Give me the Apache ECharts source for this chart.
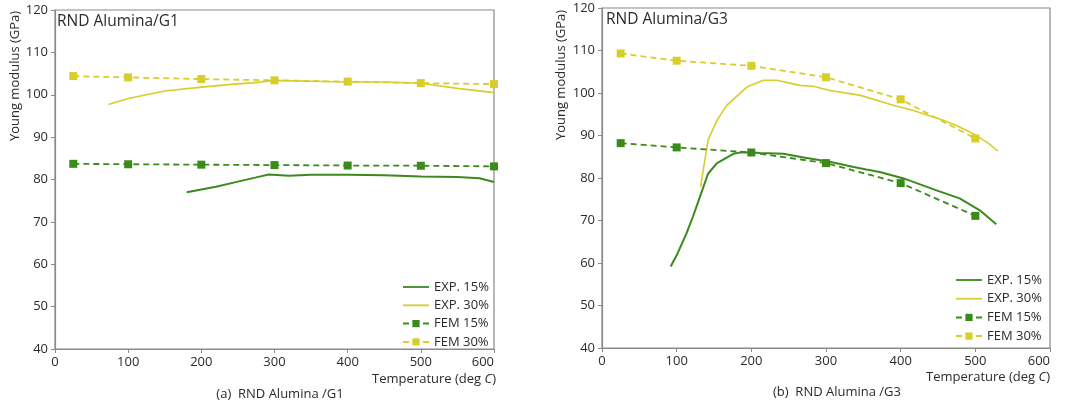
<!DOCTYPE html>
<html>
<head>
<meta charset="utf-8">
<script src="https://cdn.jsdelivr.net/npm/echarts@6/dist/echarts.min.js"></script>
<style>
  html, body { margin: 0; padding: 0; background: #fff; }
  #chart { width: 1069px; height: 405px; }
</style>
</head>
<body>
<div id="chart"></div>
<script>
// FEM sample temperatures (deg C)
const femTempsG1 = [25, 100, 200, 300, 400, 500, 600];
const femTempsG3 = [25, 100, 200, 300, 400, 500];

// RND Alumina/G1
const g1Fem15 = [83.7, 83.6, 83.5, 83.4, 83.3, 83.25, 83.1];
const g1Fem30 = [104.4, 104.1, 103.7, 103.4, 103.1, 102.75, 102.5];
const g1Exp15Temps = [180, 220, 250, 275, 292, 320, 350, 400, 450, 500, 550, 580, 600];
const g1Exp15 = [77.0, 78.3, 79.5, 80.5, 81.2, 80.9, 81.1, 81.1, 81.0, 80.7, 80.6, 80.3, 79.4];
const g1Exp30Temps = [73, 100, 150, 200, 245, 270, 300, 350, 400, 450, 500, 550, 600];
const g1Exp30 = [97.7, 99.1, 100.9, 101.8, 102.5, 102.8, 103.4, 103.2, 103.0, 103.0, 102.7, 101.5, 100.5];

// RND Alumina/G3
const g3Fem15 = [88.2, 87.2, 86.0, 83.5, 78.8, 71.1];
const g3Fem30 = [109.3, 107.6, 106.4, 103.7, 98.5, 89.3];
const g3Exp15Temps = [92, 100, 113, 122, 131, 142, 154, 167, 176, 185, 200, 212, 243, 270, 305, 337, 354, 372, 404, 448, 479, 506, 528];
const g3Exp15 = [59.2, 61.8, 66.9, 71.0, 75.5, 81.0, 83.5, 84.8, 85.7, 86.0, 86.0, 85.9, 85.7, 84.8, 83.8, 82.6, 82.0, 81.4, 79.9, 77.1, 75.2, 72.4, 69.1];
const g3Exp30Temps = [132, 142, 154, 167, 194, 216, 234, 265, 283, 305, 345, 390, 417, 457, 479, 497, 515, 530];
const g3Exp30 = [77.9, 88.9, 93.6, 97.1, 101.4, 103.0, 103.0, 101.8, 101.6, 100.6, 99.5, 97.1, 95.9, 93.6, 92.0, 90.4, 88.5, 86.4];

// Axis ticks
const tempTicks = { min: 0, max: 600, interval: 100 };
const modTicks = { min: 40, max: 120, interval: 10 };

const GREEN = '#3b8a1c';
const YELLOW = '#d8ce2a';
const FONT = '"Open Sans", "DejaVu Sans", sans-serif';
const TEXT = '#2b2b2b';
const SPINE = '#8a8a8a';
const LINE_ICON = 'path://M0,0 L26,0 L26,1.8 L0,1.8 Z';

const zip = (xs, ys) => xs.map((x, i) => [x, ys[i]]);

function xAxisFor(gridIndex) {
  return {
    type: 'value', gridIndex,
    min: tempTicks.min, max: tempTicks.max, interval: tempTicks.interval,
    axisLine: { show: true, lineStyle: { color: SPINE, width: 1.2 } },
    axisTick: { show: true, length: 4, lineStyle: { color: SPINE } },
    axisLabel: { color: TEXT, fontSize: 13, fontFamily: FONT, margin: 7, alignMaxLabel: 'right' },
    splitLine: { show: false }
  };
}
function yAxisFor(gridIndex) {
  return {
    type: 'value', gridIndex,
    min: modTicks.min, max: modTicks.max, interval: modTicks.interval,
    axisLine: { show: true, lineStyle: { color: SPINE, width: 1.2 } },
    axisTick: { show: true, length: 4, lineStyle: { color: SPINE } },
    axisLabel: { color: TEXT, fontSize: 13, fontFamily: FONT, margin: 7 },
    splitLine: { show: false }
  };
}
function expSeries(name, idx, color, width, data) {
  return {
    name, type: 'line', xAxisIndex: idx, yAxisIndex: idx,
    data, symbol: 'none', showSymbol: false, smooth: false,
    lineStyle: { color, width }, itemStyle: { color }, z: 2
  };
}
function femSeries(name, idx, color, data) {
  return {
    name, type: 'line', xAxisIndex: idx, yAxisIndex: idx,
    data, symbol: 'rect', symbolSize: 8,
    lineStyle: { color, width: 1.8, type: [6, 4] }, itemStyle: { color }, z: 3
  };
}
function legendFor(left, top, gap) {
  return {
    orient: 'vertical', left, top, padding: 0,
    itemWidth: 26, itemHeight: 9, itemGap: gap,
    textStyle: { color: TEXT, fontSize: 13, fontFamily: FONT, lineHeight: 14 },
    data: [
      { name: 'EXP. 15%', icon: LINE_ICON, itemStyle: { color: GREEN } },
      { name: 'EXP. 30%', icon: LINE_ICON, itemStyle: { color: YELLOW } },
      { name: 'FEM 15%' },
      { name: 'FEM 30%' }
    ]
  };
}

const chart = echarts.init(document.getElementById('chart'), null, { renderer: 'canvas' });
chart.setOption({
  animation: false,
  backgroundColor: '#fff',
  grid: [
    { left: 55, top: 10, width: 439, height: 339, show: true, borderColor: SPINE, borderWidth: 1.2, backgroundColor: 'transparent' },
    { left: 602, top: 8, width: 448, height: 340, show: true, borderColor: SPINE, borderWidth: 1.2, backgroundColor: 'transparent' }
  ],
  xAxis: [xAxisFor(0), xAxisFor(1)],
  yAxis: [yAxisFor(0), yAxisFor(1)],
  legend: [legendFor(402, 280, 4.3), legendFor(955, 273, 4.7)],
  series: [
    expSeries('EXP. 15%', 0, GREEN, 2, zip(g1Exp15Temps, g1Exp15)),
    expSeries('EXP. 30%', 0, YELLOW, 1.6, zip(g1Exp30Temps, g1Exp30)),
    femSeries('FEM 15%', 0, GREEN, zip(femTempsG1, g1Fem15)),
    femSeries('FEM 30%', 0, YELLOW, zip(femTempsG1, g1Fem30)),
    expSeries('EXP. 15%', 1, GREEN, 2, zip(g3Exp15Temps, g3Exp15)),
    expSeries('EXP. 30%', 1, YELLOW, 1.6, zip(g3Exp30Temps, g3Exp30)),
    femSeries('FEM 15%', 1, GREEN, zip(femTempsG3, g3Fem15)),
    femSeries('FEM 30%', 1, YELLOW, zip(femTempsG3, g3Fem30))
  ],
  graphic: [
    { type: 'text', left: 57, top: 14, style: { text: 'RND Alumina/G1', fill: TEXT, font: '15.5px ' + FONT } },
    { type: 'text', left: 606, top: 12, style: { text: 'RND Alumina/G3', fill: TEXT, font: '15.5px ' + FONT } },
    { type: 'text', x: 15, y: 76, rotation: Math.PI / 2,
      style: { text: 'Young modulus (GPa)', fill: TEXT, font: '13px ' + FONT, align: 'center', verticalAlign: 'middle' } },
    { type: 'text', x: 561, y: 75, rotation: Math.PI / 2,
      style: { text: 'Young modulus (GPa)', fill: TEXT, font: '13px ' + FONT, align: 'center', verticalAlign: 'middle' } },
    { type: 'text', x: 496, y: 379,
      style: { text: 'Temperature (deg {i|C})', fill: TEXT, font: '13px ' + FONT, align: 'right', verticalAlign: 'middle',
               rich: { i: { fontStyle: 'italic', fontSize: 13, fontFamily: FONT, fill: TEXT } } } },
    { type: 'text', x: 1050, y: 377,
      style: { text: 'Temperature (deg {i|C})', fill: TEXT, font: '13px ' + FONT, align: 'right', verticalAlign: 'middle',
               rich: { i: { fontStyle: 'italic', fontSize: 13, fontFamily: FONT, fill: TEXT } } } },
    { type: 'text', x: 280, y: 394,
      style: { text: '(a)  RND Alumina /G1', fill: TEXT, font: '13px ' + FONT, align: 'center', verticalAlign: 'middle' } },
    { type: 'text', x: 837, y: 392,
      style: { text: '(b)  RND Alumina /G3', fill: TEXT, font: '13px ' + FONT, align: 'center', verticalAlign: 'middle' } }
  ]
});
</script>
</body>
</html>
